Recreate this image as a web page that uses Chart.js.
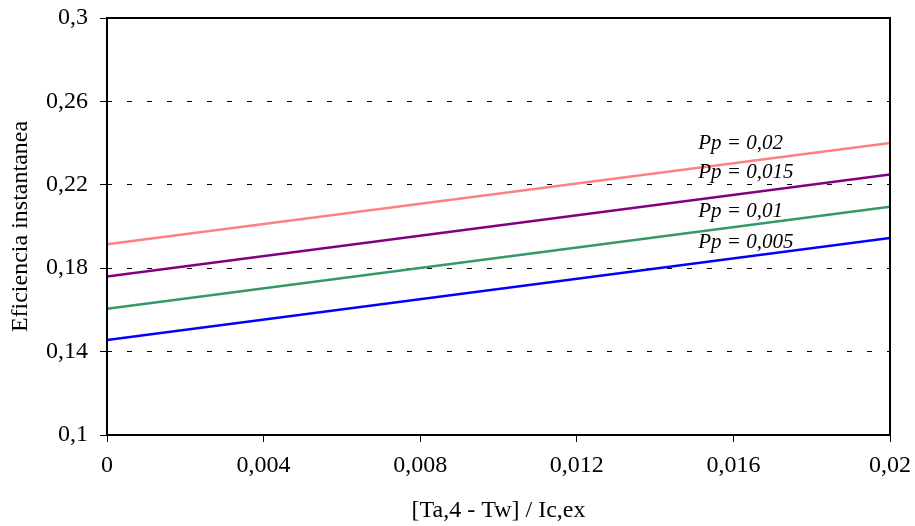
<!DOCTYPE html>
<html>
<head>
<meta charset="utf-8">
<script src="https://cdn.jsdelivr.net/npm/chart.js@4.4.0/dist/chart.umd.min.js"></script>
<style>
    html, body { margin: 0; padding: 0; background: #fff; }
    #wrap { width: 915px; height: 526px; }
</style>
</head>
<body>
<div id="wrap"><canvas id="chart"></canvas></div>
<script>
// x values (the lines are straight, read at both ends)
const xValues = [0, 0.02];
const seriesNames = ['Pp = 0,02', 'Pp = 0,015', 'Pp = 0,01', 'Pp = 0,005'];
const pp020 = [0.1915, 0.2400];
const pp015 = [0.1760, 0.2250];
const pp010 = [0.1605, 0.2095];
const pp005 = [0.1455, 0.1945];
const seriesColors = ['#FF8080', '#800080', '#339966', '#0000FF'];
// where the in-plot labels sit, in data units
const labelX = [0.0151, 0.0151, 0.0151, 0.0151];
const labelY = [0.2396, 0.2261, 0.2070, 0.1921];

const xTicks = [0, 0.004, 0.008, 0.012, 0.016, 0.02];
const yTicks = [0.1, 0.14, 0.18, 0.22, 0.26, 0.3];

const serif = "'Liberation Serif', 'Times New Roman', serif";

function fmt(v) {
    return String(Math.round(v * 1000) / 1000).replace('.', ',');
}

const allSeries = [pp020, pp015, pp010, pp005];
const datasets = allSeries.map((vals, i) => ({
    label: seriesNames[i],
    data: vals.map((y, j) => ({ x: xValues[j], y: y })),
    borderColor: seriesColors[i],
    borderWidth: 2.5,
    pointRadius: 0,
    fill: false,
    tension: 0
}));

// frame round the plot area + line labels
const framePlugin = {
    id: 'frame',
    afterDatasetsDraw(chart) {
        const { ctx, chartArea: a, scales } = chart;
        ctx.save();
        ctx.font = 'italic 21px ' + serif;
        ctx.fillStyle = '#000';
        ctx.textBaseline = 'middle';
        ctx.textAlign = 'left';
        seriesNames.forEach((name, i) => {
            ctx.fillText(name, scales.x.getPixelForValue(labelX[i]), scales.y.getPixelForValue(labelY[i]));
        });
        ctx.strokeStyle = '#000';
        ctx.lineWidth = 2;
        ctx.setLineDash([]);
        ctx.strokeRect(a.left, a.top, a.right - a.left, a.bottom - a.top);
        ctx.restore();
    }
};

new Chart(document.getElementById('chart'), {
    type: 'line',
    data: { datasets },
    options: {
        responsive: true,
        maintainAspectRatio: false,
        animation: false,
        layout: { padding: { top: 18, right: 25, left: 0, bottom: 0 } },
        plugins: {
            legend: { display: false },
            tooltip: { enabled: false }
        },
        scales: {
            x: {
                type: 'linear',
                min: 0,
                max: 0.02,
                afterBuildTicks: s => { s.ticks = xTicks.map(v => ({ value: v })); },
                afterFit: s => {
                    s.height = 91;
                    s.paddingLeft = 0;
                    s.paddingRight = 0;
                },
                grid: {
                    drawOnChartArea: false,
                    drawTicks: true,
                    tickLength: 7,
                    color: '#000',
                    lineWidth: 1
                },
                border: { display: false },
                ticks: {
                    color: '#000',
                    font: { family: serif, size: 24 },
                    padding: 9,
                    maxRotation: 0,
                    callback: v => fmt(v)
                },
                title: {
                    display: true,
                    text: '[Ta,4 - Tw] / Ic,ex',
                    color: '#000',
                    font: { family: serif, size: 24 },
                    padding: { top: 0, bottom: 1 }
                }
            },
            y: {
                type: 'linear',
                min: 0.1,
                max: 0.3,
                afterBuildTicks: s => { s.ticks = yTicks.map(v => ({ value: v })); },
                afterFit: s => {
                    s.width = 107;
                    s.paddingTop = 0;
                    s.paddingBottom = 0;
                },
                grid: {
                    drawOnChartArea: true,
                    drawTicks: true,
                    tickLength: 7,
                    color: '#000',
                    lineWidth: 1,
                    tickBorderDash: []
                },
                border: { display: false, dash: [5, 15] },
                ticks: {
                    color: '#000',
                    font: { family: serif, size: 24 },
                    padding: 12,
                    callback: v => fmt(v)
                },
                title: {
                    display: true,
                    text: 'Eficiencia instantanea',
                    color: '#000',
                    font: { family: serif, size: 24 },
                    padding: { top: 6, bottom: 0 }
                }
            }
        }
    },
    plugins: [framePlugin]
});
</script>
</body>
</html>
